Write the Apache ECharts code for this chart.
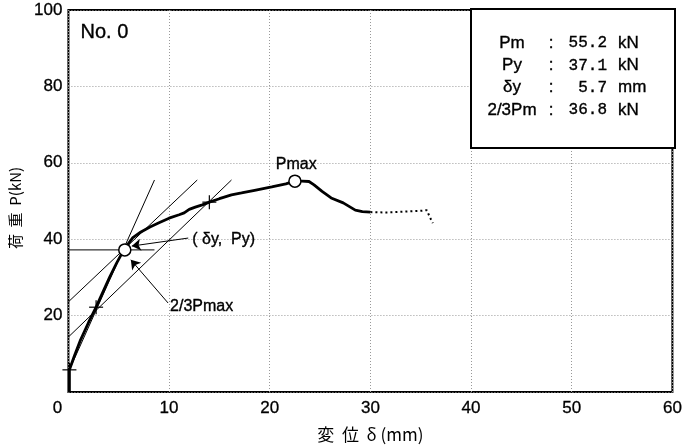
<!DOCTYPE html>
<html><head><meta charset="utf-8">
<script src="https://cdn.jsdelivr.net/npm/echarts@6/dist/echarts.min.js"></script>
<style>html,body{margin:0;padding:0;background:#fff}#c{width:685px;height:448px}</style>
</head><body><div id="c"></div>
<script>
// ---- data ----
const xTicks = [0, 10, 20, 30, 40, 50, 60];
const yTicks = [20, 40, 60, 80, 100];
const curveDisp = [0.1,0.1,0.6,1.2,2.0,2.75,3.4,4.1,4.8,5.5,6.4,7.2,8.1,9.0,10.0,11.0,11.5,12.0,12.6,13.3,14.0,15.0,16.2,17.2,18.5,20.2,21.6,22.5,23.2,23.9,24.4,25.2,26.1,27.3,28.5,29.2,30.0];
const curveLoad = [0,5.8,9.5,13.6,18.2,22.2,26.0,30.1,33.8,37.2,40.4,41.9,43.2,44.3,45.5,46.4,46.9,47.8,48.4,49.0,49.7,50.6,51.6,52.1,52.8,53.7,54.5,55.2,55.2,55.1,54.2,52.5,50.8,49.5,47.6,47.2,47.1];
const tailDisp = [30.0,31.5,32.6,34.0,34.9,35.6,35.9,36.2];
const tailLoad = [47.1,47.0,47.1,47.3,47.4,47.6,45.8,44.2];
const line1Disp = [0.1, 8.55],  line1Load = [5.8, 55.5];
const line2Disp = [0, 16.2],    line2Load = [14.4, 55.5];
const line3Disp = [0, 12.8],    line3Load = [23.6, 55.5];
const pyLineDisp = [0, 8.55],   pyLineLoad = [37.2, 37.2];
const crossDisp = [0.1, 2.75, 14.0];
const crossLoad = [5.8, 22.2, 49.7];
const circleDisp = [5.6, 22.5];
const circleLoad = [37.2, 55.2];
const arrowFromDisp = [11.9, 9.9], arrowFromLoad = [40.3, 23.3];
const arrowToDisp = [6.3, 6.2],    arrowToLoad = [38.2, 34.6];
const noteText = ['Pmax', '( δy,  Py)', '2/3Pmax', 'No. 0'];
const noteDisp = [20.6, 12.3, 10.1, 1.2];
const noteLoad = [59.4, 39.8, 22.3, 94];
const noteSize = [16, 16, 16, 20];
const infoLabels = ['Pm', 'Py', 'δy', '2/3Pm'];
const infoValues = ['55.2', '37.1', '5.7', '36.8'];
const infoUnits = ['kN', 'kN', 'mm', 'kN'];

const zip = (a, b) => a.map((v, i) => [v, b[i]]);
const F = '"Liberation Sans Narrow", "Liberation Sans", Arial, sans-serif';
const FJ = '"Noto Sans CJK JP", "Liberation Sans Narrow", sans-serif';
const TB = { stroke: '#000', lineWidth: 0.35 };

const chart = echarts.init(document.getElementById('c'));
const lineSer = (xs, ys, w, type) => ({
  type: 'line', data: zip(xs, ys), showSymbol: false, symbol: 'none', silent: true,
  lineStyle: { color: '#000', width: w, type: type || 'solid' }, z: 3
});

const graphics = [{
  type: 'rect', shape: { x: 471, y: 9, width: 204, height: 139 },
  style: { fill: '#fff', stroke: '#000', lineWidth: 2 }, z: 10
}];
infoLabels.forEach((l, i) => {
  const y = 43 + i * 22.4;
  graphics.push({ type: 'text', x: 512, y, style: Object.assign({ text: l, font: '17px ' + F, fill: '#000', align: 'center', verticalAlign: 'middle' }, TB), z: 11 });
  graphics.push({ type: 'text', x: 551, y, style: Object.assign({ text: ':', font: '17px ' + F, fill: '#000', align: 'center', verticalAlign: 'middle' }, TB), z: 11 });
  graphics.push({ type: 'text', x: 607, y, style: Object.assign({ text: infoValues[i], font: '16px "Liberation Mono", monospace', fill: '#000', align: 'right', verticalAlign: 'middle' }, TB), z: 11 });
  graphics.push({ type: 'text', x: 618, y, style: Object.assign({ text: infoUnits[i], font: '17px ' + F, fill: '#000', align: 'left', verticalAlign: 'middle' }, TB), z: 11 });
});

chart.setOption({
  animation: false,
  backgroundColor: '#fff',
  grid: { left: 65, right: 10, top: 10, bottom: 56, show: true, borderColor: '#000', borderWidth: 2, backgroundColor: 'transparent' },
  xAxis: {
    type: 'value', min: 0, max: 60, interval: 10,
    name: '変  位  δ (mm)', nameLocation: 'middle', nameGap: 34,
    nameTextStyle: { fontFamily: FJ, fontSize: 17, color: '#000' },
    axisLine: { show: false }, axisTick: { show: false },
    axisLabel: { fontFamily: F, fontSize: 17, color: '#000', margin: 8,
      textBorderColor: '#000', textBorderWidth: 0.3,
      formatter: v => (v === 0 ? '{z|0}' : String(v)),
      rich: { z: { fontFamily: F, fontSize: 17, color: '#000', padding: [0, 22, 0, 0] } } },
    splitLine: { show: true, lineStyle: { color: '#999', type: [1, 2], width: 1 } }
  },
  yAxis: {
    type: 'value', min: 0, max: 100, interval: 20,
    name: '荷  重  P(kN)', nameLocation: 'middle', nameGap: 31, nameRotate: 90,
    nameTextStyle: { fontFamily: FJ, fontSize: 15, color: '#000', padding: [0, 14, 0, 0] },
    axisLine: { show: false }, axisTick: { show: false },
    axisLabel: { fontFamily: F, fontSize: 17, color: '#000', margin: 6,
      textBorderColor: '#000', textBorderWidth: 0.3,
      formatter: v => (yTicks.includes(v) ? String(v) : '') },
    splitLine: { show: true, lineStyle: { color: '#999', type: [1, 2], width: 1 } }
  },
  graphic: graphics,
  series: [
    lineSer(line1Disp, line1Load, 1),
    lineSer(line2Disp, line2Load, 1),
    lineSer(line3Disp, line3Load, 1),
    lineSer(pyLineDisp, pyLineLoad, 1),
    lineSer(curveDisp, curveLoad, 2.8),
    lineSer(tailDisp, tailLoad, 2, [2, 3]),
    {
      type: 'lines', coordinateSystem: 'cartesian2d', silent: true, z: 4,
      symbol: ['none', 'arrow'], symbolSize: 9,
      lineStyle: { color: '#000', width: 1, opacity: 1 },
      data: arrowFromDisp.map((x, i) => ({ coords: [[x, arrowFromLoad[i]], [arrowToDisp[i], arrowToLoad[i]]] }))
    },
    {
      type: 'scatter', data: zip(crossDisp, crossLoad), symbol: 'rect', symbolSize: [14, 1.2],
      itemStyle: { color: '#000', opacity: 1 }, silent: true, z: 5
    },
    {
      type: 'scatter', data: zip(crossDisp, crossLoad), symbol: 'rect', symbolSize: [1.2, 14],
      itemStyle: { color: '#000', opacity: 1 }, silent: true, z: 5
    },
    {
      type: 'scatter', data: zip(circleDisp, circleLoad), symbol: 'circle', symbolSize: 12,
      itemStyle: { color: '#fff', borderColor: '#000', borderWidth: 1.5, opacity: 1 }, silent: true, z: 6
    },
    {
      type: 'scatter', silent: true, z: 7, symbolSize: 0,
      data: noteText.map((t, i) => ({ value: [noteDisp[i], noteLoad[i]], name: t,
        label: { fontSize: noteSize[i] } })),
      label: { show: true, position: 'right', distance: 0, formatter: p => p.name,
        fontFamily: F, fontSize: 16, color: '#000', opacity: 1,
        textBorderColor: '#000', textBorderWidth: 0.35 }
    }
  ]
});
</script></body></html>
